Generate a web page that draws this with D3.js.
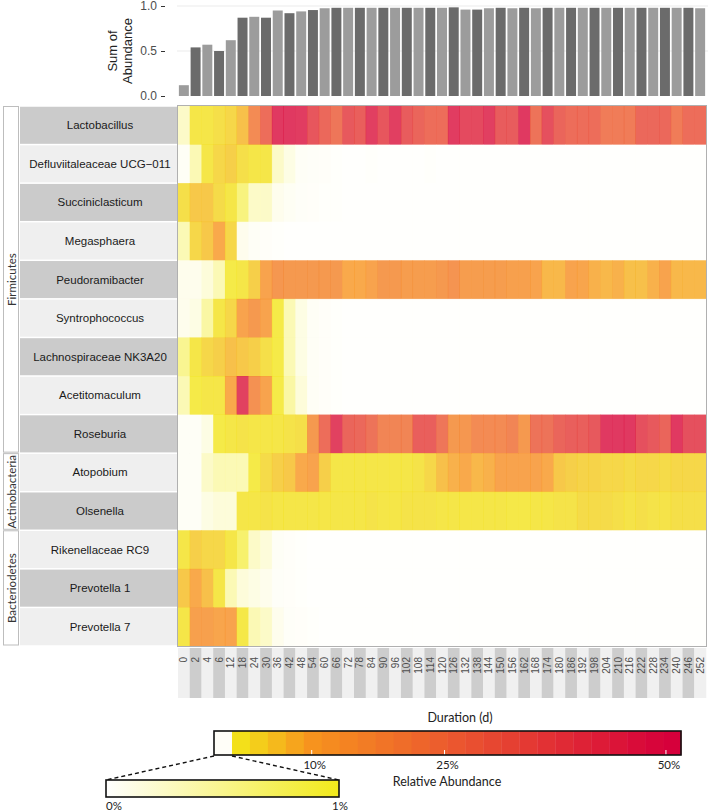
<!DOCTYPE html>
<html>
<head>
<meta charset="utf-8">
<script src="https://cdn.jsdelivr.net/npm/d3@7"></script>
<style>
  body { margin: 0; background: #fff; }
  svg { display: block; font-family: 'Liberation Sans', Arial, sans-serif; }
  .soft { font-family: Lato, 'Open Sans', sans-serif; }
</style>
</head>
<body>
<abundance-heatmap></abundance-heatmap>
<script>
const durations = [
  0, 2, 4, 6, 12, 18, 24, 30, 36, 42, 48, 54, 60, 66, 72,
  78, 84, 90, 96, 102, 108, 114, 120, 126, 132, 138, 144, 150, 156, 162,
  168, 174, 180, 186, 192, 198, 204, 210, 216, 222, 228, 234, 240, 246, 252
];

const sumOfAbundance = [
  0.12, 0.54, 0.57, 0.50, 0.62, 0.87, 0.88, 0.87, 0.95, 0.92, 0.94, 0.955, 0.975, 0.98, 0.98,
  0.98, 0.98, 0.98, 0.98, 0.98, 0.98, 0.98, 0.98, 0.985, 0.96, 0.96, 0.975, 0.98, 0.975, 0.98,
  0.975, 0.98, 0.98, 0.98, 0.98, 0.98, 0.98, 0.98, 0.98, 0.98, 0.98, 0.98, 0.98, 0.98, 0.975
];

const genera = [
  'Lactobacillus', 'Defluviitaleaceae UCG\u2212011', 'Succiniclasticum', 'Megasphaera',
  'Peudoramibacter', 'Syntrophococcus', 'Lachnospiraceae NK3A20', 'Acetitomaculum',
  'Roseburia', 'Atopobium', 'Olsenella', 'Rikenellaceae RC9', 'Prevotella 1', 'Prevotella 7'
];

const phyla = ['Firmicutes', 'Actinobacteria', 'Bacteriodetes'];
const phylumOfGenus = [
  'Firmicutes', 'Firmicutes', 'Firmicutes', 'Firmicutes', 'Firmicutes', 'Firmicutes', 'Firmicutes',
  'Firmicutes', 'Firmicutes', 'Actinobacteria', 'Actinobacteria', 'Bacteriodetes', 'Bacteriodetes', 'Bacteriodetes'
];

// relative abundance in %, one value per duration
const lactobacillus = [
  0.3, 2, 2, 3, 4, 7, 20, 30, 48, 48, 47, 38, 32, 27, 37,
  35, 46, 38, 46, 36, 33, 30, 30, 47, 42, 42, 46, 36, 36, 48,
  28, 40, 33, 30, 30, 30, 25, 25, 25, 32, 32, 32, 25, 30, 30
];
const defluviitaleaceae = [
  0.05, 0.4, 2, 4, 5, 3, 2, 2, 0.3, 0.15, 0.05, 0.04, 0.03, 0.02, 0.01,
  0.01, 0.02, 0.01, 0.01, 0.01, 0.01, 0.02, 0.01, 0.01, 0.01, 0.01, 0.01, 0.01, 0.01, 0.01,
  0.01, 0.01, 0.01, 0.01, 0.01, 0.01, 0.01, 0.01, 0.01, 0.01, 0.01, 0.01, 0.01, 0.01, 0.01
];
const succiniclasticum = [
  3, 6, 6, 3.5, 2, 0.7, 0.3, 0.3, 0.1, 0.06, 0.04, 0.03, 0.02, 0.02, 0.01,
  0.01, 0.01, 0.01, 0.01, 0.01, 0.01, 0.01, 0.01, 0.01, 0.01, 0.01, 0.01, 0.01, 0.01, 0.01,
  0.01, 0.01, 0.01, 0.01, 0.01, 0.01, 0.01, 0.01, 0.01, 0.01, 0.01, 0.01, 0.01, 0.01, 0.01
];
const megasphaera = [
  0.4, 4, 6, 10, 4, 0.1, 0.05, 0.03, 0.02, 0.01, 0.01, 0.01, 0.01, 0.01, 0.01,
  0.01, 0.01, 0.01, 0.01, 0.01, 0.01, 0.01, 0.01, 0.01, 0.01, 0.01, 0.01, 0.01, 0.01, 0.01,
  0.01, 0.01, 0.01, 0.01, 0.01, 0.01, 0.01, 0.01, 0.01, 0.01, 0.01, 0.01, 0.01, 0.01, 0.01
];
const peudoramibacter = [
  0.1, 0.1, 0.2, 0.4, 1.5, 2, 5, 12, 16, 15, 15, 15, 15, 15, 10,
  10, 12, 15, 15, 14, 14, 14, 15, 17, 14, 14, 14, 14, 13, 13,
  12, 8, 8, 12, 11, 9, 8, 9, 7, 7, 9, 12, 8, 8, 8
];
const syntrophococcus = [
  0.1, 0.15, 0.5, 2, 4, 12, 15, 12, 1.5, 0.4, 0.15, 0.05, 0.03, 0.02, 0.01,
  0.01, 0.01, 0.01, 0.01, 0.01, 0.01, 0.01, 0.01, 0.01, 0.01, 0.01, 0.01, 0.01, 0.01, 0.01,
  0.01, 0.01, 0.01, 0.01, 0.01, 0.01, 0.01, 0.01, 0.01, 0.01, 0.01, 0.01, 0.01, 0.01, 0.01
];
const lachnospiraceae = [
  0.6, 2, 4, 5, 7, 6, 5, 3, 1.5, 0.4, 0.15, 0.05, 0.03, 0.02, 0.01,
  0.01, 0.01, 0.01, 0.01, 0.01, 0.01, 0.01, 0.01, 0.01, 0.01, 0.01, 0.01, 0.01, 0.01, 0.01,
  0.01, 0.01, 0.01, 0.01, 0.01, 0.01, 0.01, 0.01, 0.01, 0.01, 0.01, 0.01, 0.01, 0.01, 0.01
];
const acetitomaculum = [
  0.4, 1.5, 2, 2, 10, 45, 18, 12, 1.5, 0.5, 0.2, 0.05, 0.03, 0.02, 0.01,
  0.01, 0.01, 0.01, 0.01, 0.01, 0.01, 0.01, 0.01, 0.01, 0.01, 0.01, 0.01, 0.01, 0.01, 0.01,
  0.01, 0.01, 0.01, 0.01, 0.01, 0.01, 0.01, 0.01, 0.01, 0.01, 0.01, 0.01, 0.01, 0.01, 0.01
];
const roseburia = [
  0.05, 0.05, 0.15, 1.5, 2, 2.5, 2, 2, 2, 2.5, 3, 15, 30, 45, 33,
  32, 28, 22, 22, 22, 35, 35, 27, 15, 16, 20, 20, 20, 22, 15,
  28, 28, 33, 35, 35, 37, 48, 48, 48, 40, 37, 33, 48, 40, 40
];
const atopobium = [
  0.05, 0.05, 0.3, 0.4, 0.4, 0.4, 1.5, 3.5, 5, 6, 10, 12, 5, 2, 2,
  2, 2, 2, 2, 2, 2.5, 4, 7, 9, 10, 8, 9, 12, 12, 12,
  12, 10, 6, 5, 4.5, 4.5, 4, 4, 3.5, 4, 4, 3.5, 4, 4, 4
];
const olsenella = [
  0.05, 0.05, 0.15, 0.2, 0.2, 2, 2, 2.5, 2, 2, 2, 2, 2, 2, 2,
  2, 2.5, 2, 2, 2.5, 2.5, 2.5, 2, 2, 2, 2, 2, 2, 1.8, 1.8,
  2, 2, 2.5, 2.5, 3.5, 3.5, 3.5, 3, 2.5, 3, 2.5, 2.5, 3, 3, 3
];
const rikenellaceae = [
  2, 5, 4, 4, 2, 0.8, 0.3, 0.2, 0.05, 0.03, 0.02, 0.01, 0.01, 0.01, 0.01,
  0.01, 0.01, 0.01, 0.01, 0.01, 0.01, 0.01, 0.01, 0.01, 0.01, 0.01, 0.01, 0.01, 0.01, 0.01,
  0.01, 0.01, 0.01, 0.01, 0.01, 0.01, 0.01, 0.01, 0.01, 0.01, 0.01, 0.01, 0.01, 0.01, 0.01
];
const prevotella1 = [
  6, 10, 7, 2, 0.4, 0.2, 0.15, 0.1, 0.04, 0.03, 0.02, 0.01, 0.01, 0.01, 0.01,
  0.01, 0.01, 0.01, 0.01, 0.01, 0.01, 0.01, 0.01, 0.01, 0.01, 0.01, 0.01, 0.01, 0.01, 0.01,
  0.01, 0.01, 0.01, 0.01, 0.01, 0.01, 0.01, 0.01, 0.01, 0.01, 0.01, 0.01, 0.01, 0.01, 0.01
];
const prevotella7 = [
  2, 13, 13, 11, 12, 1.8, 0.4, 0.3, 0.1, 0.04, 0.03, 0.02, 0.01, 0.01, 0.01,
  0.01, 0.01, 0.01, 0.01, 0.01, 0.01, 0.01, 0.01, 0.01, 0.01, 0.01, 0.01, 0.01, 0.01, 0.01,
  0.01, 0.01, 0.01, 0.01, 0.01, 0.01, 0.01, 0.01, 0.01, 0.01, 0.01, 0.01, 0.01, 0.01, 0.01
];

const abundance = [
  lactobacillus, defluviitaleaceae, succiniclasticum, megasphaera, peudoramibacter,
  syntrophococcus, lachnospiraceae, acetitomaculum, roseburia, atopobium, olsenella,
  rikenellaceae, prevotella1, prevotella7
];

const barTicks = [0, 0.5, 1];
const legendTicks = [10, 25, 50];
const insetTicks = [0, 1];

class AbundanceHeatmap extends HTMLElement {
    connectedCallback() {
        this.render();
    }

    _setConstants() {
        this.width = 708;
        this.height = 811;
        this.heatLeft = 178;
        this.heatRight = 706;
        this.heatTop = 106;
        this.heatBottom = 646;
        this.labelLeft = 20;
        this.phylumLeft = 3;
        this.stripTop = 648;
        this.stripBottom = 698;
    }

    render() {
        this._setConstants();
        const svg = d3.select(this).selectAll('svg').data([1]).join('svg')
            .attr('width', this.width).attr('height', this.height);

        const x = d3.scaleBand().domain(durations).range([this.heatLeft, this.heatRight]);
        const xBar = x.copy().paddingInner(0.15).paddingOuter(0.075);
        const y = d3.scaleBand().domain(genera).range([this.heatTop, this.heatBottom]);
        const yBar = d3.scaleLinear().domain([0, 1]).range([96, 6]);
        const color = d3.scaleLinear()
            .domain([0, 1, 10, 25, 50])
            .range(['#ffffff', '#f2ea1a', '#f7931e', '#ec5b2e', '#d6003b'])
            .clamp(true);

        // --- top bar chart
        const bars = svg.append('g').classed('bars', true);
        bars.selectAll('.grid').data(barTicks.slice(1)).join('line').classed('grid', true)
            .attr('x1', this.heatLeft - 1).attr('x2', this.width)
            .attr('y1', d => yBar(d)).attr('y2', d => yBar(d))
            .attr('stroke', '#ebebeb').attr('stroke-width', 1);
        bars.selectAll('rect').data(sumOfAbundance).join('rect')
            .attr('x', (_, i) => xBar(durations[i]))
            .attr('width', xBar.bandwidth())
            .attr('y', d => yBar(d))
            .attr('height', d => yBar(0) - yBar(d))
            .attr('fill', (_, i) => i % 2 ? '#6b6b6b' : '#9c9c9c');
        const yAxis = bars.append('g').attr('transform', 'translate(165,0)')
            .call(d3.axisLeft(yBar).tickValues(barTicks).tickFormat(d3.format('.1f')).tickSize(4).tickPadding(4));
        yAxis.select('.domain').remove();
        yAxis.selectAll('line').attr('stroke', '#333');
        yAxis.selectAll('text').attr('font-size', 12).attr('fill', '#4d4d4d')
            .attr('font-family', "'Liberation Sans', Arial, sans-serif");
        bars.selectAll('.ytitle').data(['Sum of', 'Abundance']).join('text').classed('ytitle', true)
            .attr('transform', (_, i) => `translate(${117 + i * 15},${yBar(0.5)}) rotate(-90)`)
            .attr('text-anchor', 'middle').attr('font-size', 13).attr('fill', '#222')
            .text(d => d);

        // --- phylum strips
        const phylumGroups = phyla.map(p => {
            const rows = genera.filter((_, i) => phylumOfGenus[i] == p);
            return { name: p, top: y(rows[0]), bottom: y(rows[rows.length - 1]) + y.bandwidth() };
        });
        const phylum = svg.append('g').classed('phyla', true);
        phylum.selectAll('rect').data(phylumGroups).join('rect')
            .attr('x', this.phylumLeft + 0.5).attr('width', this.labelLeft - this.phylumLeft - 2)
            .attr('y', d => d.top + 0.5).attr('height', d => d.bottom - d.top - 1.5)
            .attr('fill', '#fff').attr('stroke', '#bdbdbd').attr('stroke-width', 1);
        phylum.selectAll('text').data(phylumGroups).join('text')
            .attr('class', 'soft')
            .attr('transform', d => `translate(${this.phylumLeft + 12.5},${(d.top + d.bottom) / 2}) rotate(-90)`)
            .attr('text-anchor', 'middle').attr('font-size', 11.5).attr('fill', '#333')
            .text(d => d.name);

        // --- genus labels
        const labels = svg.append('g').classed('labels', true);
        labels.selectAll('rect').data(genera).join('rect')
            .attr('x', this.labelLeft).attr('width', this.heatLeft - this.labelLeft)
            .attr('y', d => y(d) + 0.75).attr('height', y.bandwidth() - 1.5)
            .attr('fill', (_, i) => i % 2 ? '#efefef' : '#cbcbcb');
        labels.selectAll('text').data(genera).join('text')
            .attr('x', (this.labelLeft + this.heatLeft) / 2 + 1)
            .attr('y', d => y(d) + y.bandwidth() / 2)
            .attr('dy', '0.35em').attr('text-anchor', 'middle')
            .attr('font-size', 11.5).attr('fill', '#1a1a1a')
            .text(d => d);

        // --- heatmap cells
        const cells = genera.flatMap((g, r) => durations.map((d, c) => ({ genus: g, duration: d, value: abundance[r][c] })));
        const heat = svg.append('g').classed('heat', true);
        heat.selectAll('rect').data(cells).join('rect')
            .attr('x', d => x(d.duration)).attr('width', x.bandwidth() + 0.4)
            .attr('y', d => y(d.genus)).attr('height', y.bandwidth() + 0.4)
            .attr('fill', d => color(d.value)).attr('fill-opacity', 0.8);
        heat.append('rect')
            .attr('x', this.heatLeft - 0.5).attr('y', this.heatTop - 0.5)
            .attr('width', this.heatRight - this.heatLeft + 1).attr('height', this.heatBottom - this.heatTop + 1)
            .attr('fill', 'none').attr('stroke', '#b0b0b0').attr('stroke-width', 1);

        // --- duration strip + labels
        const strip = svg.append('g').classed('strip', true);
        strip.selectAll('rect').data(durations).join('rect')
            .attr('x', d => x(d)).attr('width', x.bandwidth() + 0.3)
            .attr('y', this.stripTop).attr('height', this.stripBottom - this.stripTop)
            .attr('fill', (_, i) => i % 2 ? '#cdcdcd' : '#f0f0f0');
        const xAxis = strip.append('g').attr('transform', `translate(0,${this.stripTop})`)
            .call(d3.axisBottom(x).tickSize(0));
        xAxis.select('.domain').remove();
        xAxis.selectAll('text')
            .attr('transform', 'rotate(-90)')
            .attr('x', -9).attr('y', 0).attr('dy', '0.35em')
            .attr('text-anchor', 'end')
            .attr('font-size', 10).attr('fill', '#4d4d4d')
            .attr('font-family', "'Liberation Sans', Arial, sans-serif");
        svg.append('text').attr('class', 'soft')
            .attr('x', 460).attr('y', 722).attr('text-anchor', 'middle')
            .attr('font-size', 12.5).attr('fill', '#222')
            .text('Duration (d)');

        // --- colour legend
        const legendX = d3.scaleLinear().domain([1, 51.7]).range([232, 681]);
        const legendTop = 731, legendBottom = 755;
        const legend = svg.append('g').classed('legend', true);
        const steps = d3.range(25).map(i => {
            const x0 = legendX.range()[0] + i * (legendX.range()[1] - legendX.range()[0]) / 25;
            const x1 = x0 + (legendX.range()[1] - legendX.range()[0]) / 25;
            return { x0, x1, value: legendX.invert((x0 + x1) / 2) };
        });
        legend.append('rect')
            .attr('x', 214).attr('y', legendTop)
            .attr('width', legendX(1) - 214).attr('height', legendBottom - legendTop)
            .attr('fill', color(0.03));
        legend.selectAll('.step').data(steps).join('rect').classed('step', true)
            .attr('x', d => d.x0).attr('width', d => d.x1 - d.x0 + 0.4)
            .attr('y', legendTop).attr('height', legendBottom - legendTop)
            .attr('fill', d => color(d.value));
        legend.selectAll('.tick').data(legendTicks).join('line').classed('tick', true)
            .attr('x1', d => legendX(d)).attr('x2', d => legendX(d))
            .attr('y1', legendBottom - 5).attr('y2', legendBottom)
            .attr('stroke', '#fff').attr('stroke-width', 1);
        legend.append('rect')
            .attr('x', 214).attr('y', legendTop)
            .attr('width', 681 - 214).attr('height', legendBottom - legendTop)
            .attr('fill', 'none').attr('stroke', '#111').attr('stroke-width', 1.6);
        legend.selectAll('.label').data(legendTicks).join('text').classed('label soft', true)
            .attr('x', d => legendX(d) + 3).attr('y', 769)
            .attr('text-anchor', 'middle').attr('font-size', 11.5).attr('fill', '#222')
            .text(d => d + '%');
        legend.append('text').attr('class', 'soft')
            .attr('x', 447).attr('y', 786).attr('text-anchor', 'middle')
            .attr('font-size', 12.5).attr('fill', '#222')
            .text('Relative Abundance');

        // zoomed-in 0-1% inset
        const insetX = d3.scaleLinear().domain([0, 1]).range([106, 339]);
        const insetTop = 780, insetBottom = 797;
        const gradient = svg.append('defs').append('linearGradient').attr('id', 'inset-gradient');
        gradient.selectAll('stop').data([0, 0.04, 0.25, 0.5, 0.75, 1]).join('stop')
            .attr('offset', d => d).attr('stop-color', d => color(d));
        legend.selectAll('.connector').data([[214, insetX(0)], [legendX(1), insetX(1)]]).join('line').classed('connector', true)
            .attr('x1', d => d[0]).attr('y1', legendBottom + 1)
            .attr('x2', d => d[1]).attr('y2', insetTop)
            .attr('stroke', '#111').attr('stroke-width', 1.4).attr('stroke-dasharray', '4,3');
        legend.append('rect')
            .attr('x', insetX(0)).attr('y', insetTop)
            .attr('width', insetX(1) - insetX(0)).attr('height', insetBottom - insetTop)
            .attr('fill', 'url(#inset-gradient)').attr('stroke', '#111').attr('stroke-width', 1.6);
        legend.selectAll('.inset-label').data(insetTicks).join('text').classed('inset-label soft', true)
            .attr('x', d => d == 0 ? insetX(d) : insetX(d) + 1).attr('y', 810)
            .attr('text-anchor', d => d == 0 ? 'start' : 'middle')
            .attr('font-size', 11.5).attr('fill', '#222')
            .text(d => d + '%');
    }
}

customElements.define('abundance-heatmap', AbundanceHeatmap);
</script>
</body>
</html>
